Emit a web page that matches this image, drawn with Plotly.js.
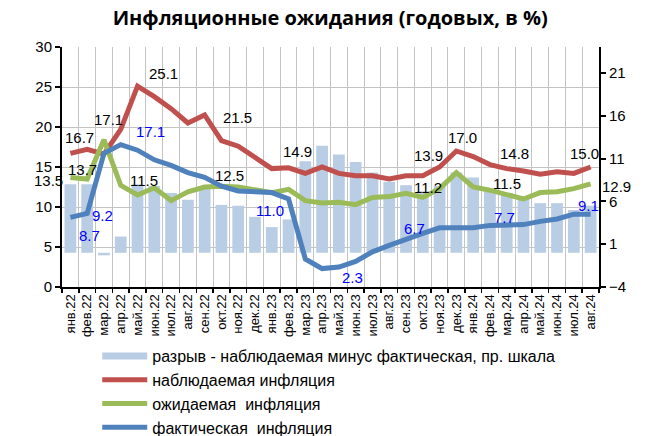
<!DOCTYPE html>
<html>
<head>
<meta charset="utf-8">
<script src="https://cdn.plot.ly/plotly-3.0.1.min.js"></script>
<style>html,body{margin:0;padding:0;background:#fff;}#chart{width:650px;height:436px;}</style>
</head>
<body>
<div id="chart"></div>
<script>
var months = ["янв.22","фев.22","мар.22","апр.22","май.22","июн.22","июл.22","авг.22","сен.22","окт.22","ноя.22","дек.22",
              "янв.23","фев.23","мар.23","апр.23","май.23","июн.23","июл.23","авг.23","сен.23","окт.23","ноя.23","дек.23",
              "янв.24","фев.24","мар.24","апр.24","май.24","июн.24","июл.24","авг.24"];
var observed = [16.7,17.2,16.6,19.7,25.1,23.8,22.3,20.5,21.5,18.3,17.6,16.2,
                14.8,14.9,14.2,15.0,14.2,13.9,13.9,13.5,13.9,13.9,15.0,17.0,
                16.3,15.3,14.8,14.5,14.1,14.4,14.2,15.0];
var expected = [13.7,13.5,18.4,12.7,11.5,12.4,10.8,11.9,12.5,12.6,12.5,12.2,
                11.8,12.2,10.8,10.5,10.6,10.3,11.2,11.3,11.7,11.2,12.3,14.3,
                12.5,12.1,11.5,11.0,11.8,11.9,12.3,12.9];
var actual = [8.7,9.2,16.7,17.8,17.1,15.9,15.2,14.3,13.7,12.6,12.0,11.9,
              11.8,11.0,3.5,2.3,2.5,3.2,4.4,5.2,6.0,6.7,7.4,7.4,
              7.4,7.7,7.7,7.8,8.2,8.5,9.1,9.1];
var gap = [8.0,8.0,-0.3,1.9,8.0,7.8,7.0,6.2,7.6,5.6,5.5,4.2,
           3.0,3.9,10.7,12.5,11.5,10.6,9.4,8.3,7.9,7.2,7.8,9.4,
           8.8,7.5,7.0,6.5,5.8,5.8,5.0,5.5];
var leftTicks = [0,5,10,15,20,25,30];
var rightTicks = [-4,1,6,11,16,21];
var names = ["разрыв - наблюдаемая минус фактическая, пр. шкала","наблюдаемая инфляция","ожидаемая  инфляция","фактическая  инфляция"];

// point labels: text, colour group, position (category index, left-axis value)
var labelText = ["16.7","13.7","17.1","25.1","11.5","21.5","12.5","14.9","13.9","11.2","17.0","14.8","11.5","15.0",
                 "8.7","9.2","17.1","11.0","2.3","6.7","7.7","9.1"];
var labelBlue = [0,0,0,0,0,0,0,0,0,0,0,0,0,0, 1,1,1,1,1,1,1,1];
var labelPx = [[79,137],[82,169],[108,119],[163,73],[144,180],[237,117],[229,175],[297,151],[428,155],[428,187],[462,137],[514,153],[507,183],[584,153],
               [89,235],[102,215],[150,131],[270,210],[352,277],[414,228],[504,217],[588,205]];
var outerText = ["13.5","12.9"];
var outerPx = [[48,180],[616,186]];

var L=62, R=599, T=47, B=287, W=650, H=436;
var catW = (R-L)/months.length;
var anns = [];
for (var i=0;i<labelText.length;i++){
  anns.push({xref:'x', yref:'y2', x:(labelPx[i][0]-L)/catW-0.5, y:(B-labelPx[i][1])/((B-T)/30),
    text:labelText[i], showarrow:false, xanchor:'center', yanchor:'middle',
    font:{family:'Liberation Sans, Arial, sans-serif', size:15, color: labelBlue[i]?'#0000FF':'#000000'}});
}
for (var j=0;j<outerText.length;j++){
  anns.push({xref:'paper', yref:'paper', x:(outerPx[j][0]-L)/(R-L), y:(B-outerPx[j][1])/(B-T),
    text:outerText[j], showarrow:false, xanchor:'center', yanchor:'middle',
    font:{family:'Liberation Sans, Arial, sans-serif', size:15, color:'#000000'}});
}

var font = 'Liberation Sans, Arial, sans-serif';
var traces = [
  {type:'bar', x:months, y:gap, yaxis:'y', marker:{color:'#B9CDE5'}, showlegend:false, name:names[0], hoverinfo:'skip'},
  {type:'scatter', mode:'lines', x:[months[0]], y:[null], yaxis:'y', line:{color:'#B9CDE5', width:7}, name:names[0]},
  {type:'scatter', mode:'lines', x:months, y:observed, yaxis:'y2', line:{color:'#C0504D', width:5}, name:names[1]},
  {type:'scatter', mode:'lines', x:months, y:expected, yaxis:'y2', line:{color:'#9BBB59', width:5}, name:names[2]},
  {type:'scatter', mode:'lines', x:months, y:actual, yaxis:'y2', line:{color:'#4F81BD', width:5}, name:names[3]}
];
var layout = {
  width:W, height:H, margin:{l:L, r:W-R, t:T, b:H-B, pad:0, autoexpand:false},
  paper_bgcolor:'#fff', plot_bgcolor:'#fff',
  font:{family:font, color:'#000'},
  title:{text:'<b>Инфляционные ожидания (годовых, в %)</b>', font:{family:'Open Sans, sans-serif', size:20, color:'#000'},
         x:0.508, xanchor:'center', y:1-18/H, yanchor:'middle', yref:'container'},
  bargap:0.3,
  xaxis:{type:'category', tickson:'boundaries', showgrid:true, gridcolor:'#C4C4C4', gridwidth:1, automargin:false,
         showline:true, linecolor:'#000', linewidth:2, ticks:'outside', ticklen:4, tickcolor:'#000', tickwidth:1.5,
         tickangle:-90, tickfont:{family:font, size:13}, range:[-0.5, months.length-0.5]},
  yaxis:{side:'right', range:[-4, 24.06], tickvals:rightTicks, showgrid:false, zeroline:false, automargin:false,
         showline:true, linecolor:'#000', linewidth:2, ticks:'outside', ticklen:5, tickwidth:2, tickcolor:'#000',
         tickfont:{family:font, size:15}},
  yaxis2:{overlaying:'y', side:'left', range:[0,30], tickvals:leftTicks, showgrid:true, gridcolor:'#C4C4C4', gridwidth:1,
         zeroline:false, automargin:false, showline:true, linecolor:'#000', linewidth:2, ticks:'outside', ticklen:5, tickwidth:2, tickcolor:'#000',
         tickfont:{family:font, size:15}},
  legend:{x:0.0656, y:1-339/H, yref:'container', xanchor:'left', yanchor:'top', orientation:'v', traceorder:'normal',
          font:{family:font, size:16}, itemwidth:45, tracegroupgap:0, bgcolor:'rgba(0,0,0,0)'},
  annotations:anns
};
Plotly.newPlot('chart', traces, layout, {displayModeBar:false, staticPlot:true});
</script>
</body>
</html>
